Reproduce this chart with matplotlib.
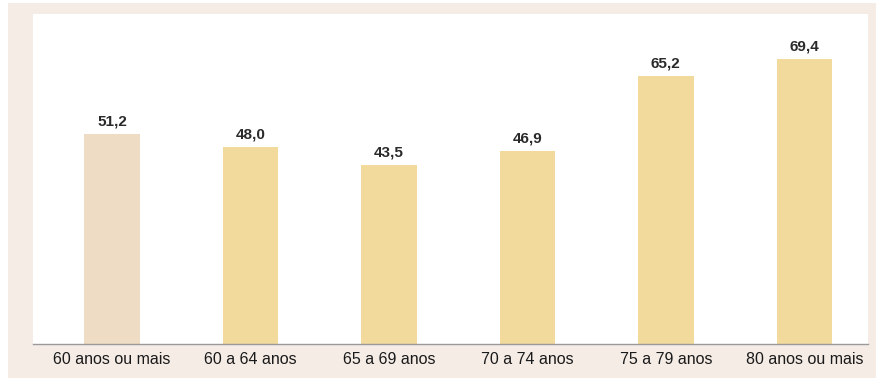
import matplotlib
matplotlib.use('Agg')
import matplotlib.pyplot as plt
from matplotlib.patches import Rectangle

# data
categories = ['60 anos ou mais', '60 a 64 anos', '65 a 69 anos',
              '70 a 74 anos', '75 a 79 anos', '80 anos ou mais']
values = [51.2, 48.0, 43.5, 46.9, 65.2, 69.4]
value_labels = ['51,2', '48,0', '43,5', '46,9', '65,2', '69,4']
bar_colors = ['#EFDCC4', '#F1DA9C', '#F1DA9C', '#F1DA9C', '#F1DA9C', '#F1DA9C']

W, H = 876, 378
fig = plt.figure(figsize=(W / 100, H / 100), dpi=100, facecolor='#F5ECE6')
fig.patches.append(Rectangle((0, 0), 8 / W, 1, transform=fig.transFigure,
                             facecolor='white', edgecolor='none', zorder=0))
fig.patches.append(Rectangle((0, 1 - 3 / H), 1, 3 / H, transform=fig.transFigure,
                             facecolor='white', edgecolor='none', zorder=0))

ax = fig.add_axes([33 / W, 34 / H, 835 / W, 330 / H])
ax.set_facecolor('white')

x = list(range(len(categories)))
bars = ax.bar(x, values, width=0.40, color=bar_colors, edgecolor='none')

for b, lab in zip(bars, value_labels):
    ax.annotate(lab, (b.get_x() + b.get_width() / 2, b.get_height()),
                xytext=(0, 4), textcoords='offset points', ha='center', va='bottom',
                fontsize=11, fontweight='bold', color='#2a2a2a',
                family='Liberation Sans')

ax.set_xlim(-0.57, 5.46)
ax.set_ylim(0, 80.35)
ax.set_xticks(x)
ax.set_xticklabels(categories, fontsize=11.5, color='#1a1a1a', family='Liberation Sans')
ax.tick_params(axis='x', length=0, pad=6)
ax.set_yticks([])
for s in ['top', 'left', 'right']:
    ax.spines[s].set_visible(False)
ax.spines['bottom'].set_color('#9A9A9A')
ax.spines['bottom'].set_linewidth(1.0)

fig.savefig('out.png', dpi=100, facecolor=fig.get_facecolor())
